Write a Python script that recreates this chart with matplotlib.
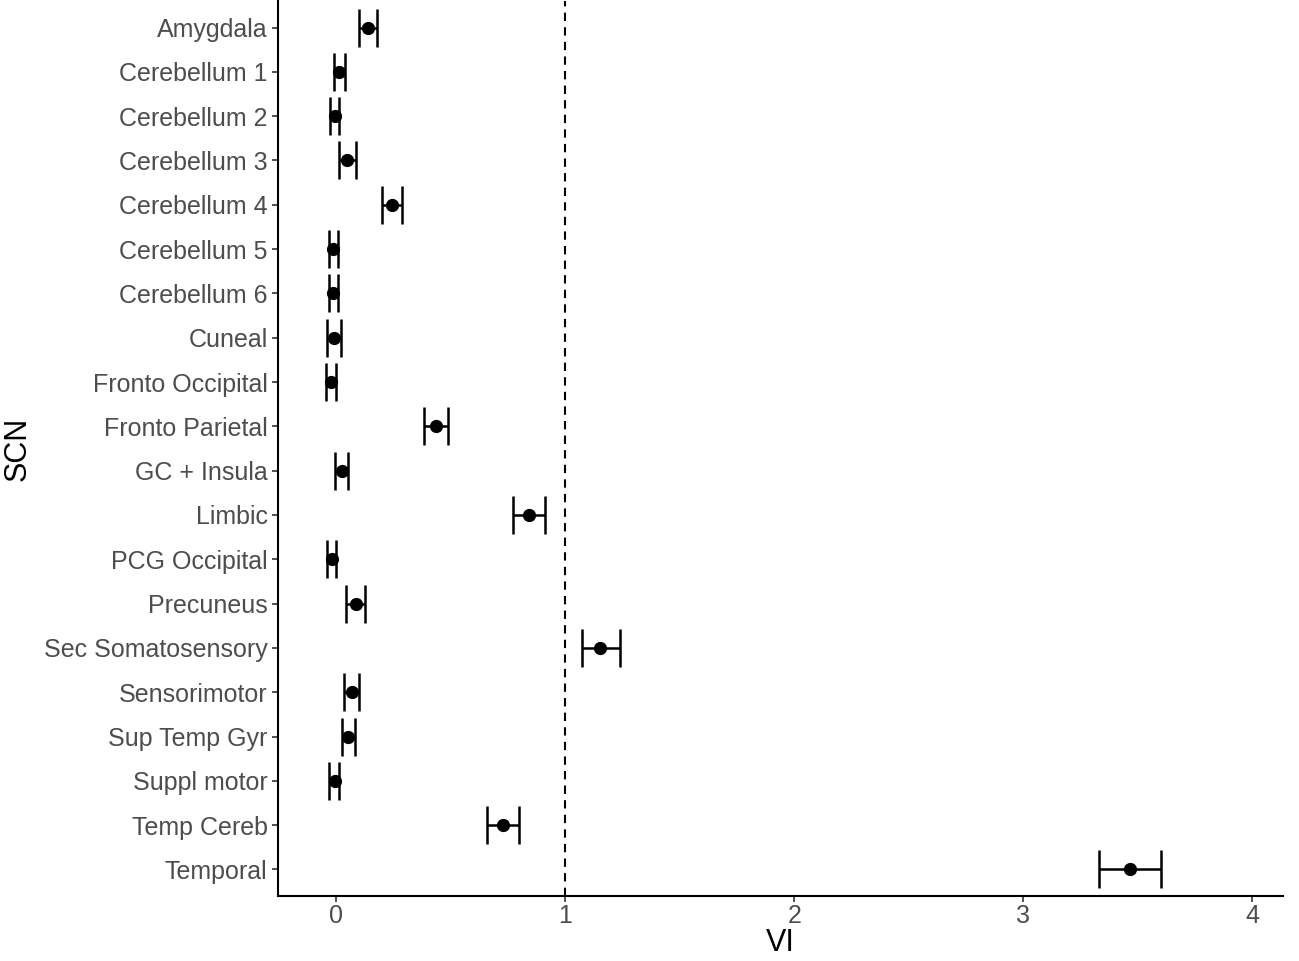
import matplotlib.pyplot as plt
import numpy as np

plt.rcParams['font.family'] = ['Liberation Sans', 'DejaVu Sans']

scn = ['Amygdala', 'Cerebellum 1', 'Cerebellum 2', 'Cerebellum 3', 'Cerebellum 4',
       'Cerebellum 5', 'Cerebellum 6', 'Cuneal', 'Fronto Occipital', 'Fronto Parietal',
       'GC + Insula', 'Limbic', 'PCG Occipital', 'Precuneus', 'Sec Somatosensory',
       'Sensorimotor', 'Sup Temp Gyr', 'Suppl motor', 'Temp Cereb', 'Temporal']
vi = [0.137, 0.013, -0.007, 0.048, 0.243, -0.013, -0.013, -0.009, -0.023, 0.437,
      0.023, 0.840, -0.020, 0.085, 1.153, 0.067, 0.051, -0.007, 0.729, 3.466]
vi_low = [0.100, -0.010, -0.027, 0.013, 0.198, -0.032, -0.033, -0.042, -0.044, 0.383,
          -0.004, 0.772, -0.041, 0.044, 1.071, 0.034, 0.023, -0.031, 0.658, 3.331]
vi_high = [0.179, 0.039, 0.012, 0.085, 0.285, 0.007, 0.009, 0.020, 0.000, 0.489,
           0.052, 0.911, 0.000, 0.125, 1.237, 0.100, 0.080, 0.013, 0.799, 3.600]

vi = np.array(vi)
err = [vi - np.array(vi_low), np.array(vi_high) - vi]
ypos = np.arange(len(scn))[::-1]

fig = plt.figure(figsize=(12.99, 9.61), dpi=100)
ax = fig.add_axes([0.214, 0.0676, 0.7737, 0.9314])

ax.axvline(1, color='black', linestyle=(0, (4, 3)), linewidth=1.5, zorder=1)
ax.errorbar(vi, ypos, xerr=err, fmt='o', color='black', ecolor='black',
            markersize=8.5, elinewidth=1.8, capsize=14, capthick=1.8, zorder=3)

ax.set_yticks(ypos)
ax.set_yticklabels(scn)
ax.set_ylim(-0.6, len(scn) - 0.4)
ax.set_xlim(-0.255, 4.134)
ax.set_xticks([0, 1, 2, 3, 4])

ax.set_xlabel('VI', fontsize=22, labelpad=0)
ax.set_ylabel('SCN', fontsize=22, labelpad=8)
ax.tick_params(axis='both', labelsize=18, colors='#333333', labelcolor='#4D4D4D',
               length=4, width=1.2)
ax.tick_params(axis='x', pad=2)
for side in ['top', 'right']:
    ax.spines[side].set_visible(False)
for side in ['left', 'bottom']:
    ax.spines[side].set_linewidth(1.5)

fig.savefig('out.png', dpi=100)
